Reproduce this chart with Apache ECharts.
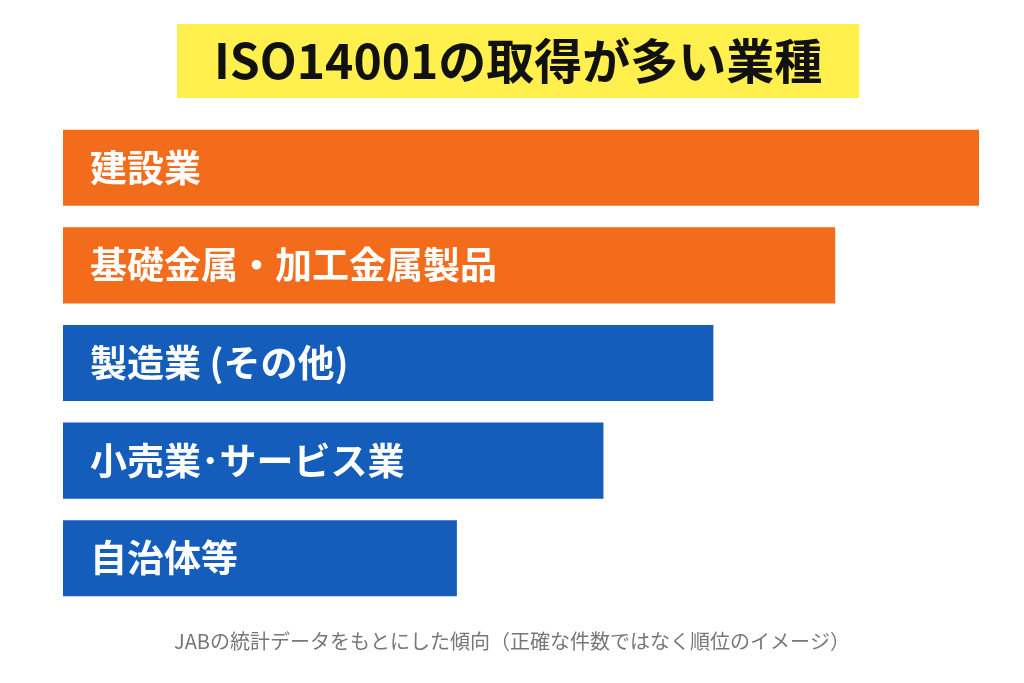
<html>
<head>
<meta charset="UTF-8" />
<title>ISO14001の取得が多い業種</title>
<style>
  html, body { margin: 0; padding: 0; background: #fff; }
</style>
</head>
<body>
<div id="main" style="width: 1024px;height:683px;"></div>
<script type="text/javascript" src="https://cdn.jsdelivr.net/npm/echarts@6/dist/echarts.min.js"></script>
<script type="text/javascript">
// 業種（上から順位順）
var categories = ['建設業', '基礎金属・加工金属製品', '製造業 (その他)', '小売業･サービス業', '自治体等'];
// 順位のイメージ値（棒の長さ）
var values = [100, 84.3, 71, 59, 43];
var barColors = ['#F36C1C', '#F36C1C', '#145DBA', '#145DBA', '#145DBA'];

var titleText = 'ISO14001の取得が多い業種';
var noteText = 'JABの統計データをもとにした傾向（正確な件数ではなく順位のイメージ）';

var myChart = echarts.init(document.getElementById('main'));

var barData = [];
for (var i = 0; i < values.length; i++) {
    barData.push({ value: values[i], itemStyle: { color: barColors[i] } });
}

var option = {
    backgroundColor: '#fff',
    title: [
        {
            text: titleText,
            left: 177,
            top: 24,
            padding: [9, 37, 9, 37],
            backgroundColor: '#FFF04D',
            textStyle: {
                fontFamily: 'Noto Sans CJK JP',
                fontSize: 48,
                fontWeight: 'bold',
                color: '#111',
                lineHeight: 56
            }
        },
        {
            text: noteText,
            left: 'center',
            top: 626,
            textStyle: {
                fontFamily: 'Noto Sans CJK JP',
                fontSize: 20,
                fontWeight: 'normal',
                color: '#777'
            }
        }
    ],
    grid: {
        left: 63,
        right: 45,
        top: 119,
        bottom: 76
    },
    xAxis: {
        type: 'value',
        min: 0,
        max: 100,
        show: false
    },
    yAxis: {
        type: 'category',
        inverse: true,
        data: categories,
        show: false
    },
    series: [
        {
            type: 'bar',
            data: barData,
            barCategoryGap: '22%',
            label: {
                show: true,
                position: 'insideLeft',
                distance: 27,
                formatter: function (p) { return categories[p.dataIndex]; },
                color: '#fff',
                fontFamily: 'Noto Sans CJK JP',
                fontSize: 37,
                fontWeight: 'bold'
            },
            silent: true
        }
    ],
    animation: false
};

myChart.setOption(option);
</script>
</body>
</html>
